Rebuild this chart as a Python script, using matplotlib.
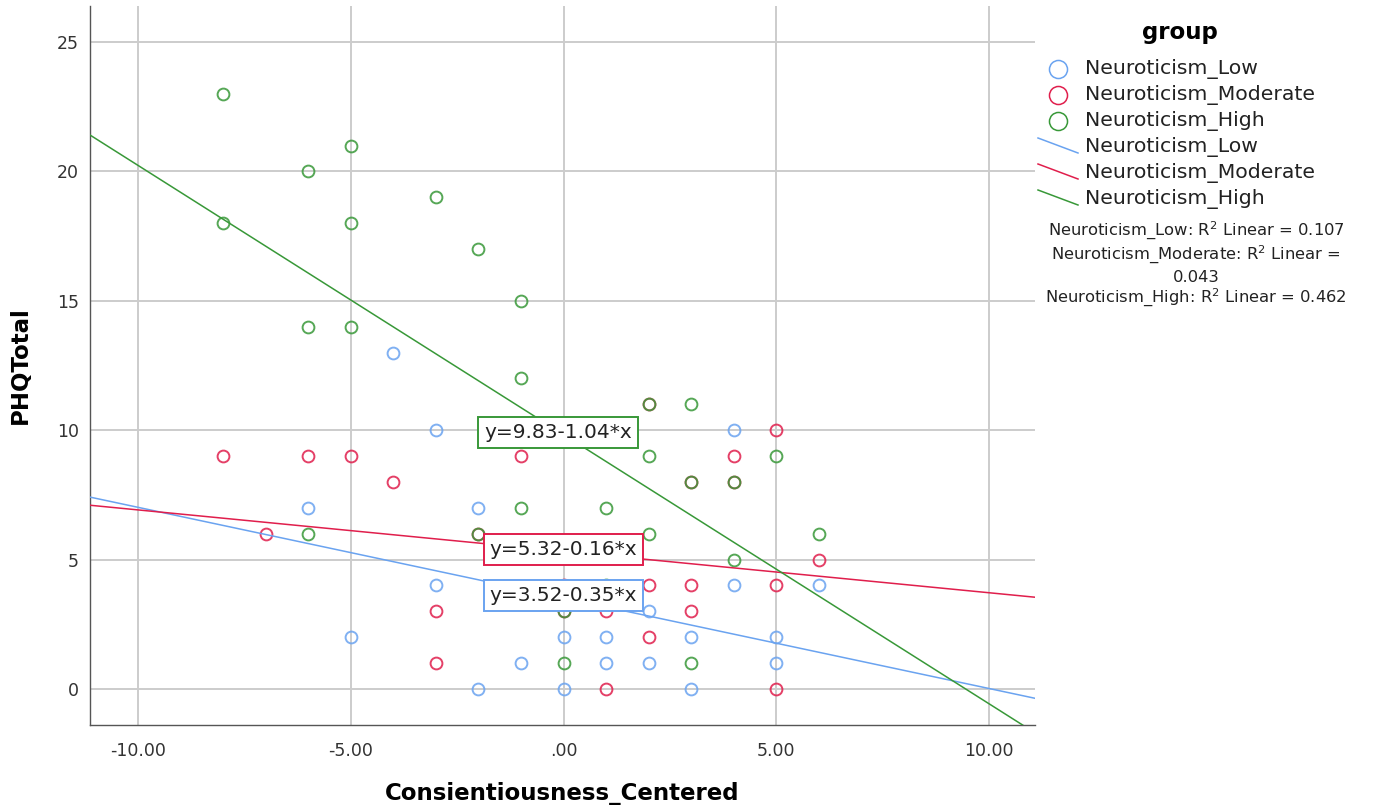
import matplotlib
matplotlib.use("Agg")
import matplotlib.pyplot as plt
from matplotlib.lines import Line2D
import numpy as np

# ---------------- data ----------------
groups = ["Neuroticism_Low", "Neuroticism_Moderate", "Neuroticism_High"]

low_x = [-4, -3, 4, -6, -2, -3, 4, 6, 2, -5, 0, 1, 3, 5, -1, 1, 2, 5, -2, 0, 3]
low_y = [13, 10, 10, 7, 7, 4, 4, 4, 3, 2, 2, 2, 2, 2, 1, 1, 1, 1, 0, 0, 0]

mod_x = [-8, -6, -5, -4, -1, 5, 4, -7, 6, -3, -3, 0, 2, 3, 5, 1, 3, 2, 1, 5, 2, -2, 3, 4, 0]
mod_y = [9, 9, 9, 8, 9, 10, 9, 6, 5, 3, 1, 4, 4, 4, 4, 3, 3, 2, 0, 0, 11, 6, 8, 8, 3]

high_x = [-8, -8, -6, -6, -6, -5, -5, -5, -3, -2, -1, -1, -1, -2, 1, 2, 3, 2, 3, 4,
          5, 6, 4, 2, 0, 3, 1, 0]
high_y = [23, 18, 20, 14, 6, 21, 18, 14, 19, 17, 15, 12, 7, 6, 7, 11, 11, 9, 8, 8,
          9, 6, 5, 6, 1, 1, 4, 3]

intercepts = [3.52, 5.32, 9.83]
slopes = [-0.35, -0.16, -1.04]
r2_values = ["0.107", "0.043", "0.462"]
eq_labels = ["y=3.52-0.35*x", "y=5.32-0.16*x", "y=9.83-1.04*x"]

x_ticks = [-10, -5, 0, 5, 10]
x_tick_labels = ["-10.00", "-5.00", ".00", "5.00", "10.00"]
y_ticks = [0, 5, 10, 15, 20, 25]

colors = ["#6aa3f0", "#e01e4c", "#389838"]

# ---------------- figure ----------------
W, H = 1373, 809
fig = plt.figure(figsize=(W / 100, H / 100), dpi=100)
plt.rcParams['font.family'] = ['DejaVu Sans']

def fx(px):
    return px / W

def fy(py):
    return 1 - py / H

ax = fig.add_axes([fx(90), fy(725), fx(1035) - fx(90), fy(6) - fy(725)])
xlim = (-11.13, 11.08)
ylim = (-1.39, 26.39)
ax.set_xlim(*xlim)
ax.set_ylim(*ylim)

ax.set_xticks(x_ticks)
ax.set_xticklabels(x_tick_labels)
ax.set_yticks(y_ticks)
ax.grid(True, color="#cccccc", linewidth=1.4)
ax.set_axisbelow(True)
for s in ["top", "right"]:
    ax.spines[s].set_visible(False)
for s in ["left", "bottom"]:
    ax.spines[s].set_color("#555555")
    ax.spines[s].set_linewidth(1.0)
ax.tick_params(axis="both", length=0, labelsize=12.5, labelcolor="#333333", pad=12)
ax.tick_params(axis="y", pad=8)

ax.set_xlabel("Consientiousness_Centered", fontsize=16.5, fontweight="bold", labelpad=16)
ax.set_ylabel("PHQTotal", fontsize=16.5, fontweight="bold", labelpad=18)

xs_data = [low_x, mod_x, high_x]
ys_data = [low_y, mod_y, high_y]
for xs, ys, c in zip(xs_data, ys_data, colors):
    ax.plot(xs, ys, linestyle="none", marker="o", markersize=8.5,
            markerfacecolor="none", markeredgecolor=c, markeredgewidth=1.4,
            alpha=0.85, zorder=3)

xx = np.array(xlim)
for a, b, c in zip(intercepts, slopes, colors):
    ax.plot(xx, a + b * xx, color=c, linewidth=1.1, zorder=4)

eq_pos_x = [0.0, 0.0, -0.13]
for a, lab, c, px_ in zip(intercepts, eq_labels, colors, eq_pos_x):
    ax.text(px_, a + 0.08, lab, fontsize=14.5, color="#222222", ha="center", va="center",
            zorder=6,
            bbox=dict(boxstyle="square,pad=0.3", facecolor="white",
                      edgecolor=c, linewidth=1.4))

# ---------------- legend (manual) ----------------
fig.text(fx(1180), fy(32), "group", fontsize=16.5, fontweight="bold",
         ha="center", va="center")
row_y = [69, 95, 121, 147, 173, 199]
for i, (g, c) in enumerate(zip(groups, colors)):
    fig.add_artist(Line2D([fx(1058)], [fy(row_y[i])], transform=fig.transFigure,
                          marker="o", markersize=13, markerfacecolor="none",
                          markeredgecolor=c, markeredgewidth=1.1, linestyle="none"))
    fig.text(fx(1085), fy(row_y[i]), g, fontsize=14.7, ha="left", va="center",
             color="#222222")
for i, (g, c) in enumerate(zip(groups, colors)):
    yy = row_y[3 + i]
    fig.add_artist(Line2D([fx(1038), fx(1078)], [fy(yy - 9), fy(yy + 6)],
                          transform=fig.transFigure, color=c, linewidth=1.1))
    fig.text(fx(1085), fy(yy), g, fontsize=14.7, ha="left", va="center",
             color="#222222")

r2_lines = [
    (231, f"{groups[0]}: R$^2$ Linear = {r2_values[0]}"),
    (255, f"{groups[1]}: R$^2$ Linear ="),
    (277, r2_values[1]),
    (298, f"{groups[2]}: R$^2$ Linear = {r2_values[2]}"),
]
for yy, t in r2_lines:
    fig.text(fx(1196), fy(yy), t, fontsize=11.8, ha="center", va="center",
             color="#222222")

fig.savefig("out.png", dpi=100)
